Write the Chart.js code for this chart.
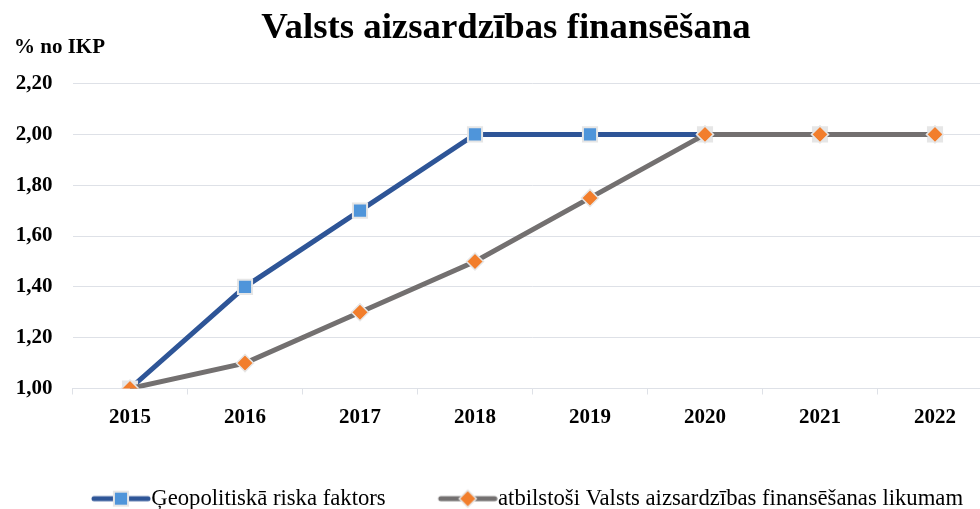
<!DOCTYPE html>
<html>
<head>
<meta charset="utf-8">
<script src="https://cdn.jsdelivr.net/npm/chart.js@4.4.1/dist/chart.umd.min.js"></script>
<style>
  html, body { margin: 0; padding: 0; background: #fff; }
  #wrap { width: 980px; height: 509px; overflow: hidden; }
</style>
</head>
<body>
<div id="wrap"><canvas id="myChart" width="1012" height="520"></canvas></div>
<script>
const years = ['2015', '2016', '2017', '2018', '2019', '2020', '2021', '2022'];
const geoRisk = [1.00, 1.40, 1.70, 2.00, 2.00, 2.00, 2.00, 2.00];
const defenceLaw = [1.00, 1.10, 1.30, 1.50, 1.75, 2.00, 2.00, 2.00];
const yMin = 1.0, yMax = 2.2, yStep = 0.2;

const seriesNames = ['Ģeopolitiskā riska faktors', 'atbilstoši Valsts aizsardzības finansēšanas likumam'];
const FONT = 'Liberation Serif';

const BLUE = '#2E5597', BLUE_PT = '#4F95DA';
const GREY = '#737070', ORANGE = '#F27E2C';
const HALO = '#E6E6E6';
const GRID = '#DEE1E7';

const squarePt = { pointStyle: 'rect', radius: 10, borderWidth: 2, rotation: 0 };
const diamondPt = { pointStyle: 'rectRot', radius: 8.5, borderWidth: 1.5, rotation: 0 };

// legend swatch: line with marker, drawn into a small canvas
function swatch(lineColor, fill, pt) {
  const c = document.createElement('canvas');
  c.width = 113; c.height = 22;
  const g = c.getContext('2d');
  g.strokeStyle = lineColor; g.lineWidth = 5; g.lineCap = 'round';
  g.beginPath(); g.moveTo(56, 11); g.lineTo(110, 11); g.stroke();
  g.fillStyle = fill; g.strokeStyle = HALO; g.lineWidth = pt.borderWidth;
  Chart.helpers.drawPoint(g, pt, 83, 11);
  return c;
}
const swatches = [swatch(BLUE, BLUE_PT, squarePt), swatch(GREY, ORANGE, diamondPt)];

const yTitle = {
  id: 'yTitle',
  afterDraw(chart) {
    const ctx = chart.ctx;
    ctx.save();
    ctx.font = 'bold 21px ' + FONT;
    ctx.fillStyle = '#000';
    ctx.textBaseline = 'alphabetic';
    ctx.fillText('% no IKP', 14, 53);
    ctx.restore();
  }
};

const ctx = document.getElementById('myChart');
const myChart = new Chart(ctx, {
  type: 'line',
  data: {
    labels: years,
    datasets: [{
      label: seriesNames[0],
      data: geoRisk,
      order: 2,
      borderColor: BLUE,
      borderWidth: 5,
      pointStyle: 'rect',
      pointRadius: squarePt.radius,
      pointBorderWidth: squarePt.borderWidth,
      pointBorderColor: HALO,
      pointBackgroundColor: c => geoRisk[c.dataIndex] === defenceLaw[c.dataIndex] ? HALO : BLUE_PT
    }, {
      label: seriesNames[1],
      data: defenceLaw,
      order: 1,
      borderColor: GREY,
      borderWidth: 5,
      pointStyle: 'rectRot',
      pointRadius: diamondPt.radius,
      pointBorderWidth: diamondPt.borderWidth,
      pointBorderColor: HALO,
      pointBackgroundColor: ORANGE
    }]
  },
  options: {
    responsive: false,
    animation: false,
    layout: { padding: 0 },
    scales: {
      x: {
        offset: true,
        grid: { display: true, drawOnChartArea: false, color: GRID, tickLength: 6, offset: true },
        border: { color: GRID },
        ticks: { color: '#000', font: { family: FONT, size: 21, weight: 'bold' }, padding: 10, maxRotation: 0 },
        afterFit: s => { s.height = 88.8; }
      },
      y: {
        min: yMin,
        max: yMax,
        grid: { color: GRID, drawTicks: false },
        border: { display: false },
        ticks: {
          stepSize: yStep,
          color: '#000',
          padding: 20,
          font: { family: FONT, size: 21, weight: 'bold' },
          callback: v => v.toFixed(2).replace('.', ',')
        },
        afterFit: s => { s.width = 72.5; }
      },
      pad: {
        position: 'right',
        display: true,
        grid: { display: false },
        border: { display: false },
        ticks: { display: false },
        afterFit: s => { s.width = 19.5; }
      }
    },
    plugins: {
      title: {
        display: true,
        text: 'Valsts aizsardzības finansēšana',
        color: '#000',
        font: { family: FONT, size: 36.8, weight: 'bold' },
        padding: { top: 6.4, bottom: 33 }
      },
      legend: {
        position: 'bottom',
        labels: {
          usePointStyle: true,
          pointStyleWidth: 91,
          padding: 10,
          color: '#000',
          font: { family: FONT, size: 22.7, weight: 'normal' },
          generateLabels(chart) {
            const items = Chart.defaults.plugins.legend.labels.generateLabels(chart);
            items.sort((a, b) => a.datasetIndex - b.datasetIndex);
            items.forEach(it => { it.pointStyle = swatches[it.datasetIndex]; });
            return items;
          }
        }
      },
      tooltip: { enabled: false }
    }
  },
  plugins: [yTitle]
});
</script>
</body>
</html>
